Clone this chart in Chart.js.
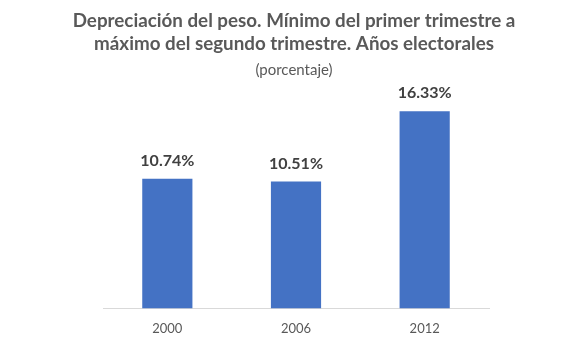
<!DOCTYPE html>
<html>
<head>
<meta charset="utf-8">
<script src="https://cdn.jsdelivr.net/npm/chart.js@4"></script>
<style>
html,body{margin:0;padding:0;background:#fff;}
#wrap{width:588px;height:354px;}
</style>
</head>
<body>
<div id="wrap"><canvas id="c" width="588" height="354"></canvas></div>
<script>
const categories = ["2000", "2006", "2012"];
const values = [10.74, 10.51, 16.33];
const titleLines = ["Depreciación del peso. Mínimo del primer trimestre a", "máximo del segundo trimestre. Años electorales"];
const subtitleText = "(porcentaje)";

const textPlugin = {
  id: 'texts',
  afterDraw(chart) {
    const ctx = chart.ctx;
    const cx = chart.width / 2;
    ctx.save();
    ctx.fillStyle = '#595959';
    ctx.textAlign = 'center';
    ctx.textBaseline = 'alphabetic';
    ctx.font = 'bold 18.8px Lato, sans-serif';
    ctx.fillText(titleLines[0], cx, 27);
    ctx.fillText(titleLines[1], cx, 50);
    ctx.font = '15px Lato, sans-serif';
    ctx.fillText(subtitleText, cx, 75);
    ctx.restore();
  },
  afterDatasetsDraw(chart) {
    const ctx = chart.ctx;
    const meta = chart.getDatasetMeta(0);
    ctx.save();
    ctx.font = 'bold 16px Lato, sans-serif';
    ctx.fillStyle = '#404040';
    ctx.textAlign = 'center';
    ctx.textBaseline = 'bottom';
    meta.data.forEach((bar, i) => {
      ctx.fillText(values[i].toFixed(2) + '%', bar.x, bar.y - 10);
    });
    ctx.restore();
  }
};

new Chart(document.getElementById('c'), {
  type: 'bar',
  data: {
    labels: categories,
    datasets: [{
      data: values,
      backgroundColor: '#4472C4',
      barPercentage: 0.78,
      categoryPercentage: 0.5
    }]
  },
  options: {
    responsive: false,
    animation: false,
    layout: { padding: { left: 103, right: 99, top: 91, bottom: 12 } },
    plugins: {
      legend: { display: false },
      tooltip: { enabled: false },
      title: { display: false },
      subtitle: { display: false }
    },
    scales: {
      x: {
        grid: { display: false },
        border: { display: true, color: '#D9D9D9', width: 1 },
        ticks: { color: '#595959', font: { family: 'Lato, sans-serif', size: 13 }, padding: 5 }
      },
      y: {
        display: false,
        min: 0,
        max: 18
      }
    }
  },
  plugins: [textPlugin]
});
</script>
</body>
</html>
